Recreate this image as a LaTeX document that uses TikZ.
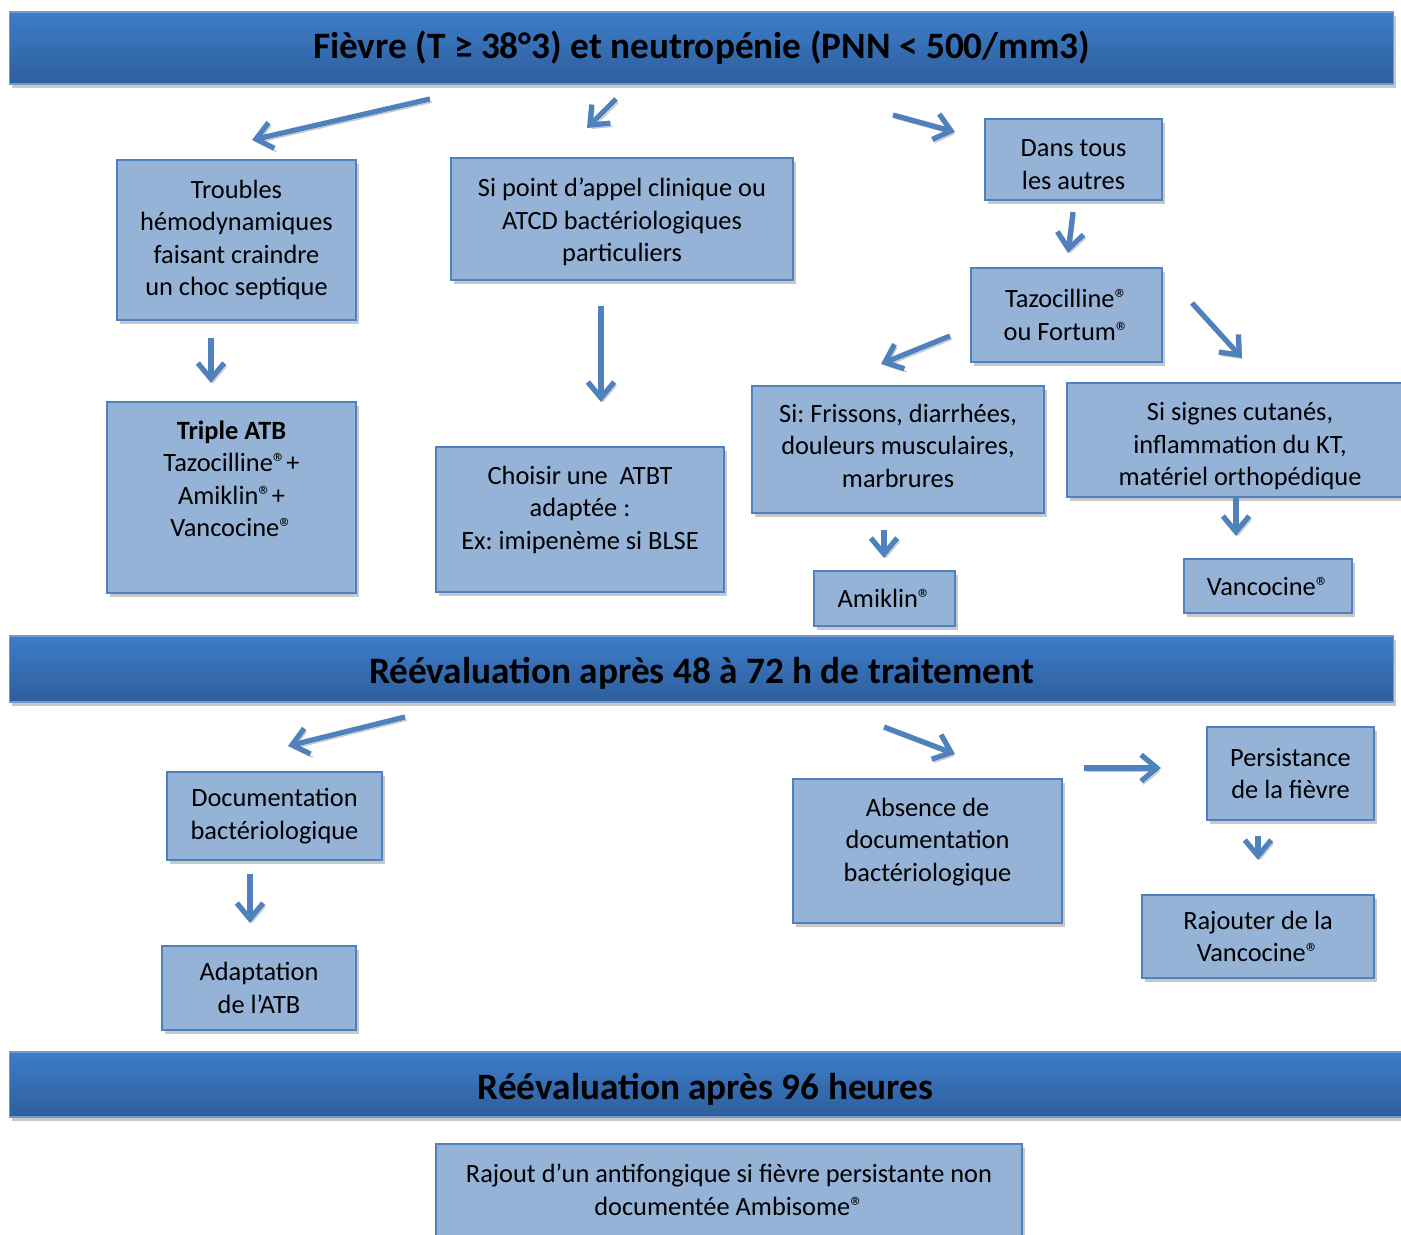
\documentclass[tikz,border=0pt]{standalone}
\usepackage{fontspec}
\setmainfont{Carlito}
\usetikzlibrary{arrows.meta,shadows}
\definecolor{boxfill}{HTML}{95B3D7}
\definecolor{boxline}{HTML}{4F81BD}
\definecolor{bantop}{HTML}{3D7DCA}
\definecolor{banbot}{HTML}{2E5E9C}
\definecolor{shade}{HTML}{C8C8C8}
\frenchspacing
\tikzset{
  box/.style={draw=boxline, fill=boxfill, line width=0.6pt, align=center, inner sep=0pt,
    font={\fontsize{7.5}{9.25}\selectfont},
    drop shadow={shadow xshift=0.8pt, shadow yshift=-1.2pt, fill=shade, opacity=1}},
  banner/.style={draw=boxline!80!white, line width=0.4pt, top color=bantop, bottom color=banbot,
    inner sep=0pt, font={\fontsize{10.6}{12}\selectfont\bfseries},
    drop shadow={shadow xshift=0.6pt, shadow yshift=-1.2pt, fill=shade, opacity=1}},
  arr/.style={draw=boxline, line width=1.5pt, -{Straight Barb[length=4.5pt,width=7.5pt]},
    preaction={draw=shade, transform canvas={shift={(0.6pt,-0.9pt)}}}},
}
\begin{document}
\begin{tikzpicture}[x=0.01cm, y=-0.01cm]
\useasboundingbox (0,0) rectangle (1401,1234);
% bandeaux
\node[banner, minimum width=13.83cm, minimum height=0.72cm, text height=8.6pt, text depth=2.5pt] (fievre) at (701.5,48) {Fièvre (T ≥ 38°3) et neutropénie (PNN < 500/mm3)};
\node[banner, minimum width=13.83cm, minimum height=0.66cm, text height=10.2pt, text depth=2.2pt] (reeval1) at (701.5,669) {Réévaluation après 48 à 72 h de traitement};
\node[banner, minimum width=13.91cm, minimum height=0.65cm, text height=10.6pt, text depth=2.2pt] (reeval2) at (705.5,1084.5) {Réévaluation après 96 heures};
% premiere partie
\node[box, minimum width=2.39cm, minimum height=1.60cm] (troubles) at (236.5,240) {Troubles\\hémodynamiques\\faisant craindre\\un choc septique};
\node[box, minimum width=3.42cm, minimum height=1.22cm] (appel) at (622,219) {\rule{0pt}{7pt}Si point d’appel clinique ou\\ATCD bactériologiques\\particuliers};
\node[box, minimum width=1.77cm, minimum height=0.81cm] (autres) at (1073.5,159.5) {\rule{0pt}{7.6pt}Dans tous\\les autres};
\node[box, minimum width=1.91cm, minimum height=0.94cm] (tazo) at (1066.5,315) {Tazocilline®\\ou Fortum®};
\node[box, minimum width=2.49cm, minimum height=1.91cm] (triple) at (231.5,497.5) {\textbf{Triple ATB}\\Tazocilline®+\\Amiklin®+\\Vancocine®\\[1.5pt]\mbox{}};
\node[box, minimum width=2.88cm, minimum height=1.45cm] (choisir) at (580,519.5) {Choisir une~ ATBT\\adaptée :\\Ex: imipenème si BLSE\\[-2.45pt]\mbox{}};
\node[box, minimum width=2.92cm, minimum height=1.27cm] (frissons) at (898,449.5) {Si: Frissons, diarrhées,\\douleurs musculaires,\\marbrures\rule[-2.3pt]{0pt}{0pt}};
\node[box, minimum width=3.46cm, minimum height=1.14cm] (signes) at (1240,440) {\rule{0pt}{8.7pt}Si signes cutanés,\\inflammation du KT,\\matériel orthopédique};
\node[box, minimum width=1.41cm, minimum height=0.55cm] (amiklin) at (884.5,598.5) {Amiklin®};
\node[box, minimum width=1.68cm, minimum height=0.54cm] (vanco) at (1268,586) {Vancocine®};
% deuxieme partie
\node[box, minimum width=2.15cm, minimum height=0.88cm] (docu) at (274.5,816) {Documentation\\bactériologique};
\node[box, minimum width=1.94cm, minimum height=0.84cm] (adapt) at (259,988) {Adaptation\\de l’ATB};
\node[box, minimum width=2.69cm, minimum height=1.44cm] (absence) at (927.5,851) {Absence de\\documentation\\bactériologique\\[-2.65pt]\mbox{}};
\node[box, minimum width=1.67cm, minimum height=0.93cm] (persist) at (1290.5,773.5) {Persistance\\de la fièvre};
\node[box, minimum width=2.32cm, minimum height=0.83cm] (rajouter) at (1258,936.5) {Rajouter de la\\Vancocine®};
% troisieme partie
\node[box, minimum width=5.86cm, minimum height=0.92cm] (rajout) at (729,1190) {Rajout d’un antifongique si fièvre persistante non\\documentée Ambisome®};
% fleches
\coordinate (s1) at (430,99);   \coordinate (e1) at (252,140);
\coordinate (s2) at (616,99);   \coordinate (e2) at (587,128);
\coordinate (s3) at (893,115);  \coordinate (e3) at (955,132);
\coordinate (s4) at (1073,212); \coordinate (e4) at (1068,253);
\coordinate (s5) at (211,338);  \coordinate (e5) at (211,383);
\coordinate (s6) at (601,306);  \coordinate (e6) at (601,402);
\coordinate (s7) at (950,336);  \coordinate (e7) at (881,364);
\coordinate (s8) at (1192,303); \coordinate (e8) at (1242,358);
\coordinate (s9) at (884,530);  \coordinate (e9) at (884,558);
\coordinate (s10) at (1236,497); \coordinate (e10) at (1236,536);
\coordinate (s11) at (405,717); \coordinate (e11) at (288,746);
\coordinate (s12) at (884,727); \coordinate (e12) at (955,754);
\coordinate (s13) at (1084,768); \coordinate (e13) at (1161,768);
\coordinate (s14) at (1258,836); \coordinate (e14) at (1258,860);
\coordinate (s15) at (250,874); \coordinate (e15) at (250,923);
\foreach \i in {1,...,15}
  \draw[arr] (s\i) -- (e\i);
\end{tikzpicture}
\end{document}
